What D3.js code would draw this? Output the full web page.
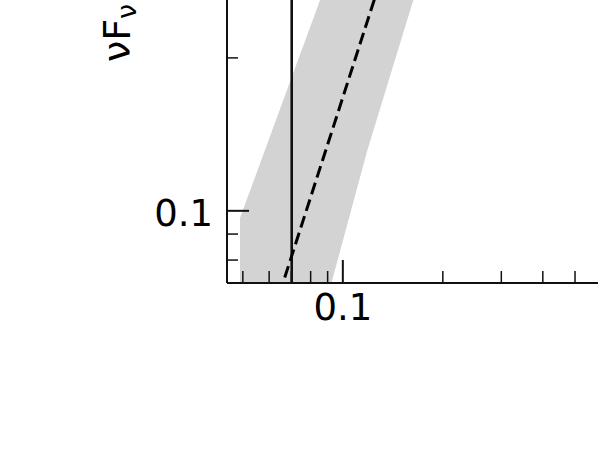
<!DOCTYPE html>
<html>
<head>
<meta charset="utf-8">
<script src="https://cdn.jsdelivr.net/npm/d3@7"></script>
<style>
  body { margin: 0; background: #fff; }
  svg { display: block; font-family: "DejaVu Sans", sans-serif; }
</style>
</head>
<body>
<svg id="chart" width="598" height="458"></svg>
<script>
// axis limits and ticks (log-log)
const xDomain = [0.0448, 1];
const yDomain = [0.0721, 1];
const xMajor = [0.1];
const xMinor = [0.05, 0.06, 0.07, 0.08, 0.09, 0.2, 0.3, 0.4, 0.5, 0.6, 0.7, 0.8, 0.9];
const yMajor = [0.1];
const yMinor = [0.08, 0.09, 0.2, 0.3];

// grey uncertainty band, upper and lower edges
const upX = [0.0492, 0.0585, 0.0857, 0.11, 0.2];
const upY = [0.0966, 0.1314, 0.2594, 0.404, 1.17];
const loX = [0.0492, 0.0929, 0.105, 0.119, 0.1636, 0.2];
const loY = [0.017, 0.0723, 0.0971, 0.1314, 0.2594, 0.395];

// dashed model curve
const modelX = [0.06, 0.065, 0.08, 0.1, 0.12, 0.13, 0.15];
const modelY = [0.0588, 0.0692, 0.1054, 0.1657, 0.240, 0.282, 0.378];

// vertical marker
const markX = 0.0704;

const left = 226.5, bottom = 282.5;
const x = d3.scaleLog().domain(xDomain).range([left, left + 1.3486 * 332.2]);
const y = d3.scaleLog().domain(yDomain).range([bottom, bottom - 1.1421 * 508]);

const svg = d3.select("#chart");

svg.append("defs").append("clipPath").attr("id", "plot")
  .append("rect")
    .attr("x", x.range()[0]).attr("y", y.range()[1])
    .attr("width", x.range()[1] - x.range()[0])
    .attr("height", y.range()[0] - y.range()[1]);

const g = svg.append("g").attr("clip-path", "url(#plot)");

// band polygon: up the left side, along upper edge, down the right side, back along lower edge
const band = upX.map((d, i) => [d, upY[i]])
  .concat(loX.map((d, i) => [d, loY[i]]).reverse());

const line = d3.line().x(d => x(d[0])).y(d => y(d[1]));

g.append("path")
    .attr("d", line(band) + "Z")
    .attr("fill", "#d3d3d3")
    .attr("stroke", "none");

g.append("line")
    .attr("x1", x(markX)).attr("x2", x(markX))
    .attr("y1", y.range()[0]).attr("y2", y.range()[1])
    .attr("stroke", "#111")
    .attr("stroke-width", 2.6);

g.append("path")
    .attr("d", line(modelX.map((d, i) => [d, modelY[i]])))
    .attr("fill", "none")
    .attr("stroke", "#000")
    .attr("stroke-width", 3)
    .attr("stroke-dasharray", "12,5.5");

// axes: ticks pointing inward
const fmt = d => "0.1";

const xAxisMinor = svg.append("g").attr("transform", `translate(0,${bottom})`)
  .call(d3.axisBottom(x).tickValues(xMinor).tickSize(-11.5).tickSizeOuter(0).tickFormat(""));
const yAxisMinor = svg.append("g").attr("transform", `translate(${left},0)`)
  .call(d3.axisLeft(y).tickValues(yMinor).tickSize(-11.5).tickSizeOuter(0).tickFormat(""));

const xAxis = svg.append("g").attr("transform", `translate(0,${bottom})`)
  .call(d3.axisBottom(x).tickValues(xMajor).tickSize(-22.5).tickSizeOuter(0).tickPadding(11).tickFormat(fmt));
const yAxis = svg.append("g").attr("transform", `translate(${left},0)`)
  .call(d3.axisLeft(y).tickValues(yMajor).tickSize(-22.5).tickSizeOuter(0).tickPadding(13.5).tickFormat(fmt));

[xAxisMinor, yAxisMinor].forEach(a => {
  a.select(".domain").remove();
  a.selectAll(".tick line").attr("stroke", "#111").attr("stroke-width", 1.5);
});
[xAxis, yAxis].forEach(a => {
  a.select(".domain").attr("stroke", "#111").attr("stroke-width", 2);
  a.selectAll(".tick line").attr("stroke", "#111").attr("stroke-width", 2);
  a.selectAll(".tick text")
    .attr("font-family", "DejaVu Sans")
    .attr("font-size", 37)
    .attr("fill", "#000");
});
yAxis.selectAll(".tick text").attr("dy", "0.4em");

// y label
const lab = svg.append("text")
    .attr("transform", "translate(129.5,62) rotate(-90)")
    .attr("font-size", 38)
    .attr("fill", "#000");
lab.append("tspan").text("νF");
lab.append("tspan").attr("font-size", 27).attr("dy", 6).text("ν");
</script>
</body>
</html>
